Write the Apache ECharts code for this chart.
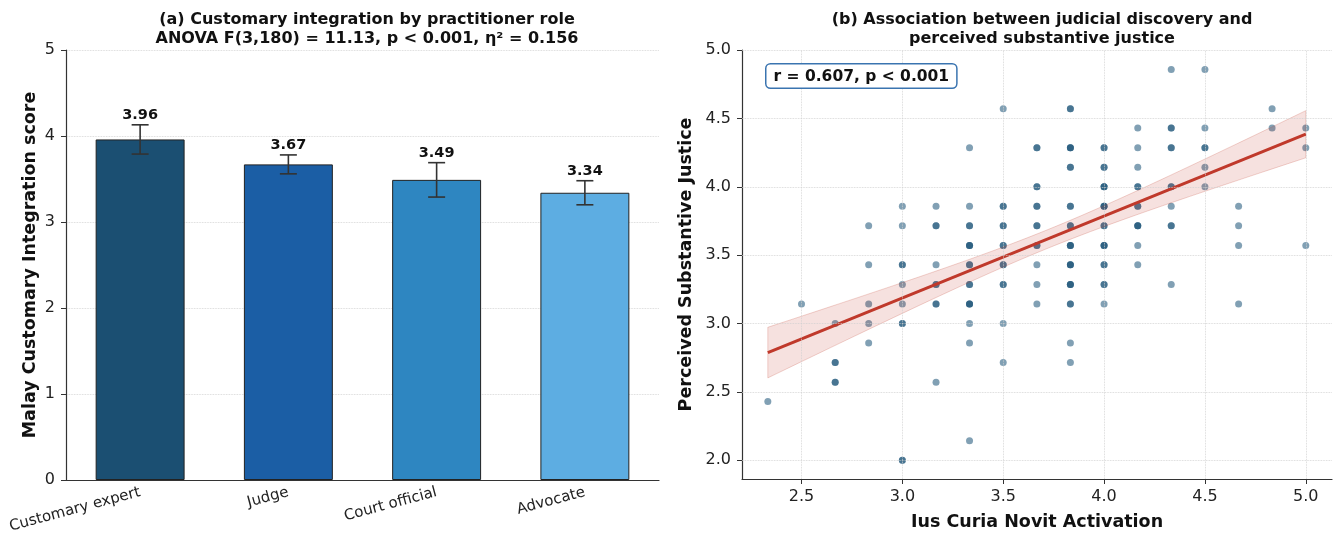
<!DOCTYPE html>
<html>
<head>
<meta charset="utf-8">
<script src="https://cdn.jsdelivr.net/npm/echarts@6/dist/echarts.min.js"></script>
<style>
  html, body { margin: 0; padding: 0; background: #fff; }
  #chart { width: 1336px; height: 545px; }
</style>
</head>
<body>
<div id="chart"></div>
<script>
// panel (a): mean score by role, with error bars
const roles = ['Customary expert', 'Judge', 'Court official', 'Advocate']
const roleMeans = [3.96, 3.67, 3.49, 3.34]
const roleErrors = [0.17, 0.11, 0.20, 0.14]
const roleColors = ['#1b4f72', '#1b5ea5', '#2e86c1', '#5dade2']

// panel (b): activation level (x) and the justice scores observed at it (y)
const ictLevels = [2.333, 2.5, 2.667, 2.833, 3.0, 3.167, 3.333, 3.5, 3.667, 3.833, 4.0, 4.167, 4.333, 4.5, 4.667, 4.833, 5.0]
const psjByLevel = [
  [2.429],
  [3.143],
  [3.0, 2.714, 2.714, 2.571, 2.571],
  [3.714, 3.429, 3.143, 3.0, 2.857],
  [3.857, 3.714, 3.429, 3.429, 3.286, 3.143, 3.0, 3.0, 2.0, 2.0],
  [3.857, 3.714, 3.714, 3.429, 3.286, 3.286, 3.143, 3.143, 2.571],
  [4.286, 3.857, 3.714, 3.714, 3.571, 3.571, 3.571, 3.429, 3.429, 3.286, 3.286, 3.143, 3.143, 3.143, 3.0, 2.857, 2.143],
  [4.571, 3.857, 3.857, 3.714, 3.714, 3.571, 3.571, 3.429, 3.429, 3.286, 3.286, 3.0, 2.714],
  [4.286, 4.286, 4.0, 4.0, 3.857, 3.857, 3.714, 3.714, 3.571, 3.571, 3.429, 3.286, 3.143],
  [4.571, 4.571, 4.286, 4.286, 4.286, 4.143, 4.143, 3.857, 3.857, 3.714, 3.714, 3.571, 3.571, 3.571, 3.429, 3.429, 3.429, 3.286, 3.286, 3.286, 3.143, 3.143, 2.857, 2.714],
  [4.286, 4.286, 4.143, 4.143, 4.0, 4.0, 4.0, 3.857, 3.857, 3.857, 3.714, 3.714, 3.571, 3.571, 3.571, 3.429, 3.429, 3.286, 3.286, 3.143],
  [4.429, 4.286, 4.143, 4.0, 4.0, 3.857, 3.857, 3.714, 3.714, 3.714, 3.571, 3.429],
  [4.857, 4.429, 4.429, 4.286, 4.286, 4.0, 4.0, 3.857, 3.714, 3.714, 3.286],
  [4.857, 4.429, 4.286, 4.286, 4.143, 4.0],
  [3.857, 3.714, 3.571, 3.143],
  [4.571, 4.429],
  [4.429, 4.286, 3.571]
]
const scatterTicksX = [2.5, 3.0, 3.5, 4.0, 4.5, 5.0]
const scatterTicksY = [2.0, 2.5, 3.0, 3.5, 4.0, 4.5, 5.0]

const FONT = "'DejaVu Sans', sans-serif"
const AXIS_COLOR = '#333'
const GRID_COLOR = '#cfcfcf'

// flatten scatter points
const points = []
ictLevels.forEach((x, i) => psjByLevel[i].forEach(y => points.push([x, y])))

// least squares fit + 95% CI of the mean (like seaborn regplot)
const n = points.length
const xbar = points.reduce((s, p) => s + p[0], 0) / n
const ybar = points.reduce((s, p) => s + p[1], 0) / n
let sxx = 0, sxy = 0
points.forEach(p => { sxx += (p[0] - xbar) ** 2; sxy += (p[0] - xbar) * (p[1] - ybar) })
const slope = sxy / sxx
const intercept = ybar - slope * xbar
let sse = 0
points.forEach(p => { sse += (p[1] - intercept - slope * p[0]) ** 2 })
const resSd = Math.sqrt(sse / (n - 2))
const xLo = Math.min(...ictLevels)
const xHi = Math.max(...ictLevels)
const bandX = [], bandUp = [], bandDn = []
for (let k = 0; k <= 60; k++) {
  const x = xLo + (xHi - xLo) * k / 60
  const yhat = intercept + slope * x
  const hw = 1.97 * resSd * Math.sqrt(1 / n + (x - xbar) ** 2 / sxx)
  bandX.push(x); bandUp.push(yhat + hw); bandDn.push(yhat - hw)
}

const chart = echarts.init(document.getElementById('chart'))

const option = {
  animation: false,
  textStyle: { fontFamily: FONT },
  title: [
    {
      text: '(a) Customary integration by practitioner role\nANOVA F(3,180) = 11.13, p < 0.001, η² = 0.156',
      left: 362, top: 5, textAlign: 'center',
      textStyle: { fontFamily: FONT, fontSize: 16, fontWeight: 'bold', color: '#111', lineHeight: 19, align: 'center' }
    },
    {
      text: '(b) Association between judicial discovery and\nperceived substantive justice',
      left: 1037, top: 5, textAlign: 'center',
      textStyle: { fontFamily: FONT, fontSize: 16, fontWeight: 'bold', color: '#111', lineHeight: 19, align: 'center' }
    }
  ],
  grid: [
    { left: 66, top: 50, width: 593, height: 430 },
    { left: 742, top: 50, width: 590, height: 429 }
  ],
  xAxis: [
    {
      type: 'category', gridIndex: 0, data: roles,
      axisLine: { lineStyle: { color: AXIS_COLOR, width: 1.2 } },
      axisTick: { alignWithLabel: true, length: 5, lineStyle: { color: AXIS_COLOR } },
      axisLabel: { rotate: 15, interval: 0, fontSize: 15, color: '#222', margin: 12 }
    },
    {
      type: 'value', gridIndex: 1, min: 2.205, max: 5.13,
      splitLine: { show: false },
      axisLine: { show: true, onZero: false, lineStyle: { color: AXIS_COLOR, width: 1.2 } },
      axisTick: { show: true, length: 5, customValues: scatterTicksX, lineStyle: { color: AXIS_COLOR } },
      axisLabel: { customValues: scatterTicksX, formatter: v => v.toFixed(1), fontSize: 16, color: '#222', margin: 10 },
      name: 'Ius Curia Novit Activation', nameLocation: 'middle', nameGap: 34,
      nameTextStyle: { fontSize: 17.5, fontWeight: 'bold', color: '#111' }
    }
  ],
  yAxis: [
    {
      type: 'value', gridIndex: 0, min: 0, max: 5, interval: 1,
      splitLine: { show: true, lineStyle: { type: 'dotted', color: GRID_COLOR, width: 0.8 } },
      axisLine: { show: true, lineStyle: { color: AXIS_COLOR, width: 1.2 } },
      axisTick: { show: true, length: 5, lineStyle: { color: AXIS_COLOR } },
      axisLabel: { fontSize: 16, color: '#222', margin: 11 },
      name: 'Malay Customary Integration score', nameLocation: 'middle', nameGap: 27,
      nameTextStyle: { fontSize: 17.5, fontWeight: 'bold', color: '#111' }
    },
    {
      type: 'value', gridIndex: 1, min: 1.863, max: 5.0,
      splitLine: { show: false },
      axisLine: { show: true, onZero: false, lineStyle: { color: AXIS_COLOR, width: 1.2 } },
      axisTick: { show: true, length: 5, customValues: scatterTicksY, lineStyle: { color: AXIS_COLOR } },
      axisLabel: { customValues: scatterTicksY, formatter: v => v.toFixed(1), fontSize: 16, color: '#222', margin: 11 },
      name: 'Perceived Substantive Justice', nameLocation: 'middle', nameGap: 47,
      nameTextStyle: { fontSize: 17.5, fontWeight: 'bold', color: '#111' }
    }
  ],
  series: [
    {
      type: 'bar', xAxisIndex: 0, yAxisIndex: 0, barWidth: '60%',
      data: roleMeans.map((v, i) => ({ value: v, itemStyle: { color: roleColors[i] } })),
      itemStyle: { borderColor: '#222', borderWidth: 1 }
    },
    {
      // error bars + value labels
      type: 'custom', xAxisIndex: 0, yAxisIndex: 0, z: 5,
      data: roleMeans.map((v, i) => [i, v, roleErrors[i]]),
      renderItem: (params, api) => {
        const i = api.value(0), m = api.value(1), e = api.value(2)
        const top = api.coord([i, m + e])
        const bot = api.coord([i, m - e])
        const lab = api.coord([i, m + e + 0.02])
        const cap = 8.5
        const ls = { stroke: '#333', lineWidth: 1.6 }
        return {
          type: 'group',
          children: [
            { type: 'line', shape: { x1: top[0], y1: top[1], x2: bot[0], y2: bot[1] }, style: ls },
            { type: 'line', shape: { x1: top[0] - cap, y1: top[1], x2: top[0] + cap, y2: top[1] }, style: ls },
            { type: 'line', shape: { x1: bot[0] - cap, y1: bot[1], x2: bot[0] + cap, y2: bot[1] }, style: ls },
            {
              type: 'text', x: lab[0], y: lab[1],
              style: { text: m.toFixed(2), fill: '#111', font: 'bold 14.5px ' + FONT, align: 'center', verticalAlign: 'bottom' }
            }
          ]
        }
      }
    },
    {
      // gridlines for panel (b)
      type: 'line', xAxisIndex: 1, yAxisIndex: 1, z: 0, silent: true,
      data: [[scatterTicksX[0], scatterTicksY[0]]], symbol: 'none', lineStyle: { opacity: 0 },
      markLine: {
        silent: true, symbol: ['none', 'none'], animation: false,
        label: { show: false },
        lineStyle: { type: 'dotted', color: GRID_COLOR, width: 0.8 },
        data: scatterTicksX.map(v => ({ xAxis: v })).concat(scatterTicksY.map(v => ({ yAxis: v })))
      }
    },
    {
      type: 'scatter', xAxisIndex: 1, yAxisIndex: 1, z: 2,
      symbolSize: 7, data: points,
      itemStyle: { color: '#1a5276', opacity: 0.55 }
    },
    {
      // confidence band
      type: 'custom', xAxisIndex: 1, yAxisIndex: 1, z: 3, silent: true,
      data: [[bandX[0], bandUp[0]]],
      renderItem: (params, api) => {
        const up = bandX.map((x, k) => api.coord([x, bandUp[k]]))
        const dn = bandX.map((x, k) => api.coord([x, bandDn[k]])).reverse()
        return {
          type: 'polygon', shape: { points: up.concat(dn) },
          style: { fill: 'rgba(192,57,43,0.15)', stroke: 'rgba(192,57,43,0.22)', lineWidth: 1 }
        }
      }
    },
    {
      type: 'line', xAxisIndex: 1, yAxisIndex: 1, z: 4, showSymbol: false,
      data: [[xLo, intercept + slope * xLo], [xHi, intercept + slope * xHi]],
      lineStyle: { color: '#c0392b', width: 3 }
    }
  ],
  graphic: [
    {
      type: 'text', left: 765, top: 63, z: 10,
      style: {
        text: 'r = 0.607, p < 0.001', font: 'bold 15.5px ' + FONT, fill: '#111',
        backgroundColor: '#fff', borderColor: '#3a74b0', borderWidth: 1.5, borderRadius: 4,
        padding: [4, 7, 3, 7]
      }
    }
  ]
}

chart.setOption(option)
</script>
</body>
</html>
